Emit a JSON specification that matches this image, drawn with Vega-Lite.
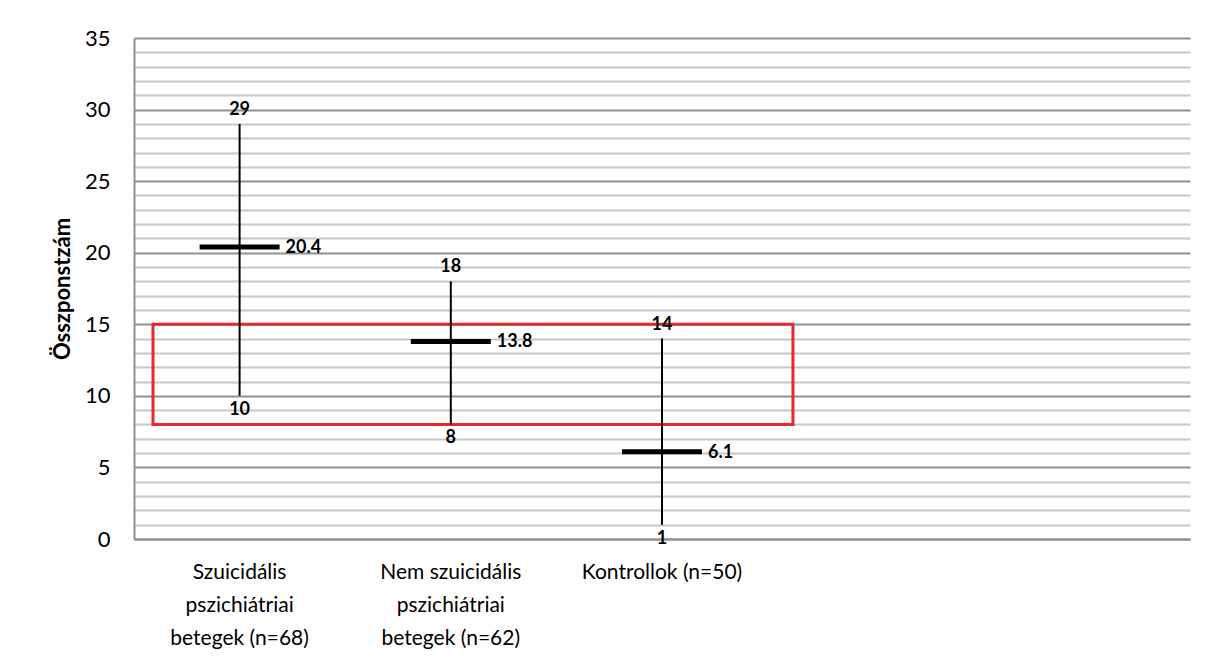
{
  "$schema": "https://vega.github.io/schema/vega-lite/v6.json",
  "width": 1056,
  "height": 501,
  "autosize": {"type": "none"},
  "padding": {"left": 134, "top": 38, "right": 15, "bottom": 122},
  "background": "white",
  "config": {
    "view": {"stroke": null},
    "font": "Lato",
    "axisY": {
      "titleFont": "Lato",
      "titleFontSize": 22,
      "titleFontWeight": "bold",
      "titleColor": "black",
      "titlePadding": 10,
      "labelOverlap": false,
      "labelFontSize": 22,
      "labelColor": "black",
      "labelPadding": 24,
      "ticks": false,
      "grid": true,
      "gridWidth": 2,
      "domainColor": "#8f8f8f",
      "domainWidth": 2
    }
  },
  "datasets": {
    "groups": [
      {"group": "Szuicidális pszichiátriai betegek (n=68)", "min": 10, "max": 29, "mean": 20.4},
      {"group": "Nem szuicidális pszichiátriai betegek (n=62)", "min": 8, "max": 18, "mean": 13.8},
      {"group": "Kontrollok (n=50)", "min": 1, "max": 14, "mean": 6.1}
    ],
    "box": [{"from": 0.09, "to": 3.12, "low": 8, "high": 15}]
  },
  "layer": [
    {
      "data": {"name": "box"},
      "mark": {"type": "rect", "fill": null, "stroke": "#e8282b", "strokeWidth": 3},
      "encoding": {
        "x": {"field": "from", "type": "quantitative", "scale": {"domain": [0, 5], "nice": false, "zero": false}, "axis": null},
        "x2": {"field": "to"},
        "y": {"field": "low", "type": "quantitative", "scale": {"domain": [0, 35], "nice": false}, "axis": {
          "title": "Összponstzám",
          "values": [0,1,2,3,4,5,6,7,8,9,10,11,12,13,14,15,16,17,18,19,20,21,22,23,24,25,26,27,28,29,30,31,32,33,34,35],
          "labelExpr": "datum.value % 5 === 0 ? datum.label : ''",
          "gridColor": {"condition": {"test": "datum.value % 5 === 0", "value": "#8f8f8f"}, "value": "#c6c6c6"}
        }},
        "y2": {"field": "high"}
      }
    },
    {
      "data": {"name": "groups"},
      "encoding": {
        "x": {
          "field": "group",
          "type": "nominal",
          "sort": null,
          "scale": {
            "domain": ["Szuicidális pszichiátriai betegek (n=68)", "Nem szuicidális pszichiátriai betegek (n=62)", "Kontrollok (n=50)", " ", "  "],
            "paddingInner": 0,
            "paddingOuter": 0
          },
          "axis": {
            "title": null,
            "labelAngle": 0,
            "labelAlign": "center",
            "labelBaseline": "top",
            "labelFontSize": 21,
            "labelColor": "black",
            "labelLineHeight": 33,
            "labelPadding": 22,
            "ticks": false,
            "domainColor": "#8f8f8f",
            "domainWidth": 2,
            "labelExpr": "datum.value == 'Szuicidális pszichiátriai betegek (n=68)' ? ['Szuicidális', 'pszichiátriai', 'betegek (n=68)'] : datum.value == 'Nem szuicidális pszichiátriai betegek (n=62)' ? ['Nem szuicidális', 'pszichiátriai', 'betegek (n=62)'] : datum.value == 'Kontrollok (n=50)' ? 'Kontrollok (n=50)' : ''"
          }
        }
      },
      "layer": [
        {
          "mark": {"type": "rule", "color": "black", "strokeWidth": 2},
          "encoding": {
            "y": {"field": "min", "type": "quantitative", "axis": {
              "title": "Összponstzám",
              "values": [0,1,2,3,4,5,6,7,8,9,10,11,12,13,14,15,16,17,18,19,20,21,22,23,24,25,26,27,28,29,30,31,32,33,34,35],
              "labelExpr": "datum.value % 5 === 0 ? datum.label : ''",
              "gridColor": {"condition": {"test": "datum.value % 5 === 0", "value": "#8f8f8f"}, "value": "#c6c6c6"}
            }},
            "y2": {"field": "max"}
          }
        },
        {
          "mark": {"type": "tick", "color": "black", "size": 80, "thickness": 5, "opacity": 1},
          "encoding": {
            "y": {"field": "mean", "type": "quantitative", "axis": {
              "title": "Összponstzám",
              "values": [0,1,2,3,4,5,6,7,8,9,10,11,12,13,14,15,16,17,18,19,20,21,22,23,24,25,26,27,28,29,30,31,32,33,34,35],
              "labelExpr": "datum.value % 5 === 0 ? datum.label : ''",
              "gridColor": {"condition": {"test": "datum.value % 5 === 0", "value": "#8f8f8f"}, "value": "#c6c6c6"}
            }}
          }
        },
        {
          "mark": {"type": "text", "fontWeight": "bold", "fontSize": 18, "color": "black", "baseline": "bottom", "dy": -5},
          "encoding": {
            "y": {"field": "max", "type": "quantitative", "axis": {
              "title": "Összponstzám",
              "values": [0,1,2,3,4,5,6,7,8,9,10,11,12,13,14,15,16,17,18,19,20,21,22,23,24,25,26,27,28,29,30,31,32,33,34,35],
              "labelExpr": "datum.value % 5 === 0 ? datum.label : ''",
              "gridColor": {"condition": {"test": "datum.value % 5 === 0", "value": "#8f8f8f"}, "value": "#c6c6c6"}
            }},
            "text": {"field": "max", "type": "quantitative"}
          }
        },
        {
          "mark": {"type": "text", "fontWeight": "bold", "fontSize": 18, "color": "black", "baseline": "top", "dy": 5},
          "encoding": {
            "y": {"field": "min", "type": "quantitative", "axis": {
              "title": "Összponstzám",
              "values": [0,1,2,3,4,5,6,7,8,9,10,11,12,13,14,15,16,17,18,19,20,21,22,23,24,25,26,27,28,29,30,31,32,33,34,35],
              "labelExpr": "datum.value % 5 === 0 ? datum.label : ''",
              "gridColor": {"condition": {"test": "datum.value % 5 === 0", "value": "#8f8f8f"}, "value": "#c6c6c6"}
            }},
            "text": {"field": "min", "type": "quantitative"}
          }
        },
        {
          "mark": {"type": "text", "fontWeight": "bold", "fontSize": 18, "color": "black", "align": "left", "baseline": "middle", "dx": 46, "dy": 1},
          "encoding": {
            "y": {"field": "mean", "type": "quantitative", "axis": {
              "title": "Összponstzám",
              "values": [0,1,2,3,4,5,6,7,8,9,10,11,12,13,14,15,16,17,18,19,20,21,22,23,24,25,26,27,28,29,30,31,32,33,34,35],
              "labelExpr": "datum.value % 5 === 0 ? datum.label : ''",
              "gridColor": {"condition": {"test": "datum.value % 5 === 0", "value": "#8f8f8f"}, "value": "#c6c6c6"}
            }},
            "text": {"field": "mean", "type": "quantitative", "format": ".1f"}
          }
        }
      ]
    }
  ],
  "resolve": {"scale": {"x": "independent"}}
}
